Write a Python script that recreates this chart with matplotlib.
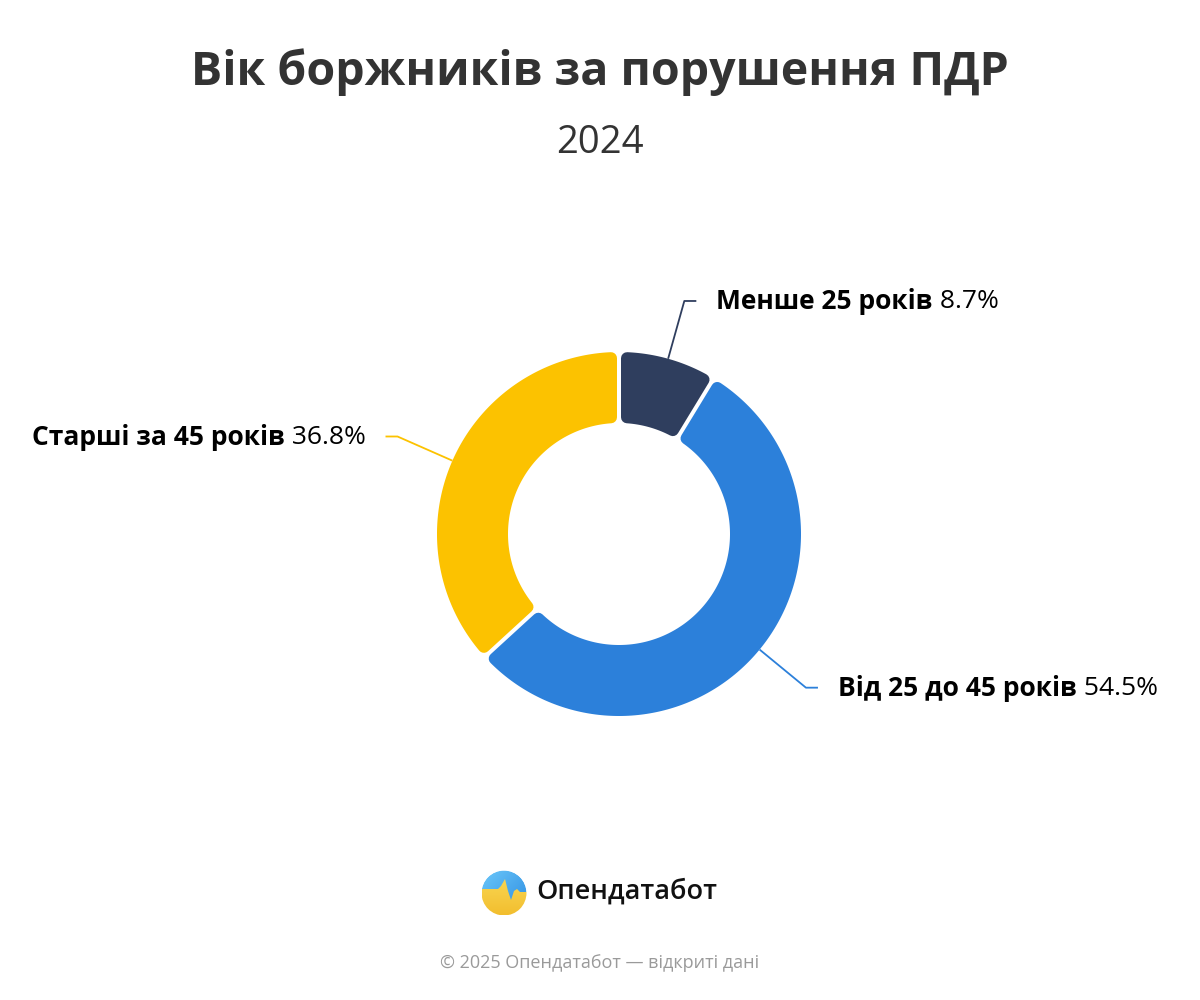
import numpy as np
import matplotlib
matplotlib.use("Agg")
import matplotlib.pyplot as plt
from matplotlib.path import Path
from matplotlib.patches import PathPatch, Circle, Polygon

# ---- data ----
categories = ["Менше 25 років", "Від 25 до 45 років", "Старші за 45 років"]
values = [8.7, 54.5, 36.8]
colors = ["#2F3E5E", "#2C80DA", "#FCC200"]
title = "Вік боржників за порушення ПДР"
subtitle = "2024"
brand = "Опендатабот"
footer = "© 2025 Опендатабот — відкриті дані"

FONT = "Open Sans"
fig = plt.figure(figsize=(12, 10), dpi=100)
ax = fig.add_axes([0, 0, 1, 1])
ax.set_xlim(0, 1200)
ax.set_ylim(1000, 0)
ax.set_aspect("equal")
ax.axis("off")

cx, cy = 619, 534
r_out, r_in = 182, 111
gap = 2.0      # half-gap in px
rad = 6.0      # corner radius in px
px2pt = 72 / 100


def pt(r, phi):
    return (cx + r * np.sin(phi), cy - r * np.cos(phi))


def rounded_segment(phi1, phi2):
    s = gap + rad
    ro, ri = r_out - rad, r_in + rad
    a1o = phi1 + np.arcsin(s / ro)
    a2o = phi2 - np.arcsin(s / ro)
    a1i = phi1 + np.arcsin(s / ri)
    a2i = phi2 - np.arcsin(s / ri)
    t_o = np.linspace(a1o, a2o, 200)
    t_i = np.linspace(a2i, a1i, 200)
    xs = list(cx + ro * np.sin(t_o)) + list(cx + ri * np.sin(t_i))
    ys = list(cy - ro * np.cos(t_o)) + list(cy - ri * np.cos(t_i))
    verts = list(zip(xs, ys)) + [(xs[0], ys[0])]
    codes = [Path.MOVETO] + [Path.LINETO] * (len(verts) - 2) + [Path.CLOSEPOLY]
    return Path(verts, codes)


fracs = np.array(values) / np.sum(values)
starts = np.concatenate([[0], np.cumsum(fracs)[:-1]]) * 2 * np.pi
ends = np.cumsum(fracs) * 2 * np.pi

for i, (a, b) in enumerate(zip(starts, ends)):
    p = rounded_segment(a, b)
    ax.add_patch(PathPatch(p, facecolor=colors[i], edgecolor=colors[i],
                           lw=2 * rad * px2pt, joinstyle="round", zorder=2))

# labels with leader lines
r_elbow = 242
for i, (a, b) in enumerate(zip(starts, ends)):
    m = (a + b) / 2
    x0, y0 = pt(r_out, m)
    x1, y1 = pt(r_elbow, m)
    side = 1 if np.sin(m) > 0 else -1
    x2 = x1 + side * 12
    ax.plot([x0, x1, x2], [y0, y1, y1], color=colors[i], lw=1.3, zorder=1,
            solid_capstyle="butt")
    tx = x2 + side * 20
    fs = 19
    if side > 0:
        t1 = ax.text(tx, y1 + 1, categories[i], fontsize=fs, fontweight="bold",
                     family=FONT, ha="left", va="center", color="#000000")
        fig.canvas.draw()
        bb = t1.get_window_extent()
        ax.text(bb.x1, y1 + 1, " %.1f%%" % values[i], fontsize=fs, family=FONT,
                ha="left", va="center", color="#000000")
    else:
        t2 = ax.text(tx, y1 + 1, " %.1f%%" % values[i], fontsize=fs, family=FONT,
                     ha="right", va="center", color="#000000")
        fig.canvas.draw()
        bb = t2.get_window_extent()
        ax.text(bb.x0, y1 + 1, categories[i], fontsize=fs,
                fontweight="bold", family=FONT, ha="right", va="center",
                color="#000000")

# titles
ax.text(600, 72, title, fontsize=33.5, fontweight="bold", family=FONT,
        ha="center", va="center", color="#333333")
ax.text(600, 143, subtitle, fontsize=27.5, fontweight="medium", family=FONT,
        ha="center", va="center", color="#333333")

# logo
lx, ly, lr = 504, 893, 22.5
clip = Circle((lx, ly), lr, transform=ax.transData)
yy, xx = np.mgrid[0:1:256j, 0:1:256j]
t = np.clip((xx + yy) / 2, 0, 1)[..., None]
c1 = np.array([0x6C, 0xC8, 0xFA]) / 255
c2 = np.array([0x2A, 0x8A, 0xE0]) / 255
img = c1 * (1 - t) + c2 * t
im = ax.imshow(img, extent=(lx - lr, lx + lr, ly + lr, ly - lr), zorder=3)
im.set_clip_path(clip)
pulse_x = np.array([-26, -6, -3, 1, 4, 7, 10, 13, 16, 26])
pulse_y = np.array([-4, -4, -7, -14, -2, 7, -2, -4, -1, -1])
verts = list(zip(lx + pulse_x, ly + pulse_y)) + [(lx + 26, ly + 26), (lx - 26, ly + 26)]
yimg_t = np.clip(yy, 0, 1)[..., None]
y1c = np.array([0xFB, 0xDB, 0x5A]) / 255
y2c = np.array([0xF2, 0xBE, 0x2E]) / 255
yimg = y1c * (1 - yimg_t) + y2c * yimg_t
im2 = ax.imshow(yimg, extent=(lx - lr, lx + lr, ly + lr, ly - lr), zorder=4)
poly = Polygon(verts, closed=True, transform=ax.transData)
im2.set_clip_path(poly)
ax.set_xlim(0, 1200)
ax.set_ylim(1000, 0)
# clip yellow also to circle via drawing white ring mask
ring = Circle((lx, ly), lr + 6, fill=False, edgecolor="white", lw=12 * px2pt, zorder=5)
ax.add_patch(ring)
ax.text(536, 892, brand, fontsize=19.5, fontweight="semibold", family=FONT,
        ha="left", va="center", color="#111111")

ax.text(600, 963, footer, fontsize=13, family=FONT, ha="center", va="center",
        color="#9A9A9A")

fig.savefig("out.png", dpi=100, facecolor="white")
